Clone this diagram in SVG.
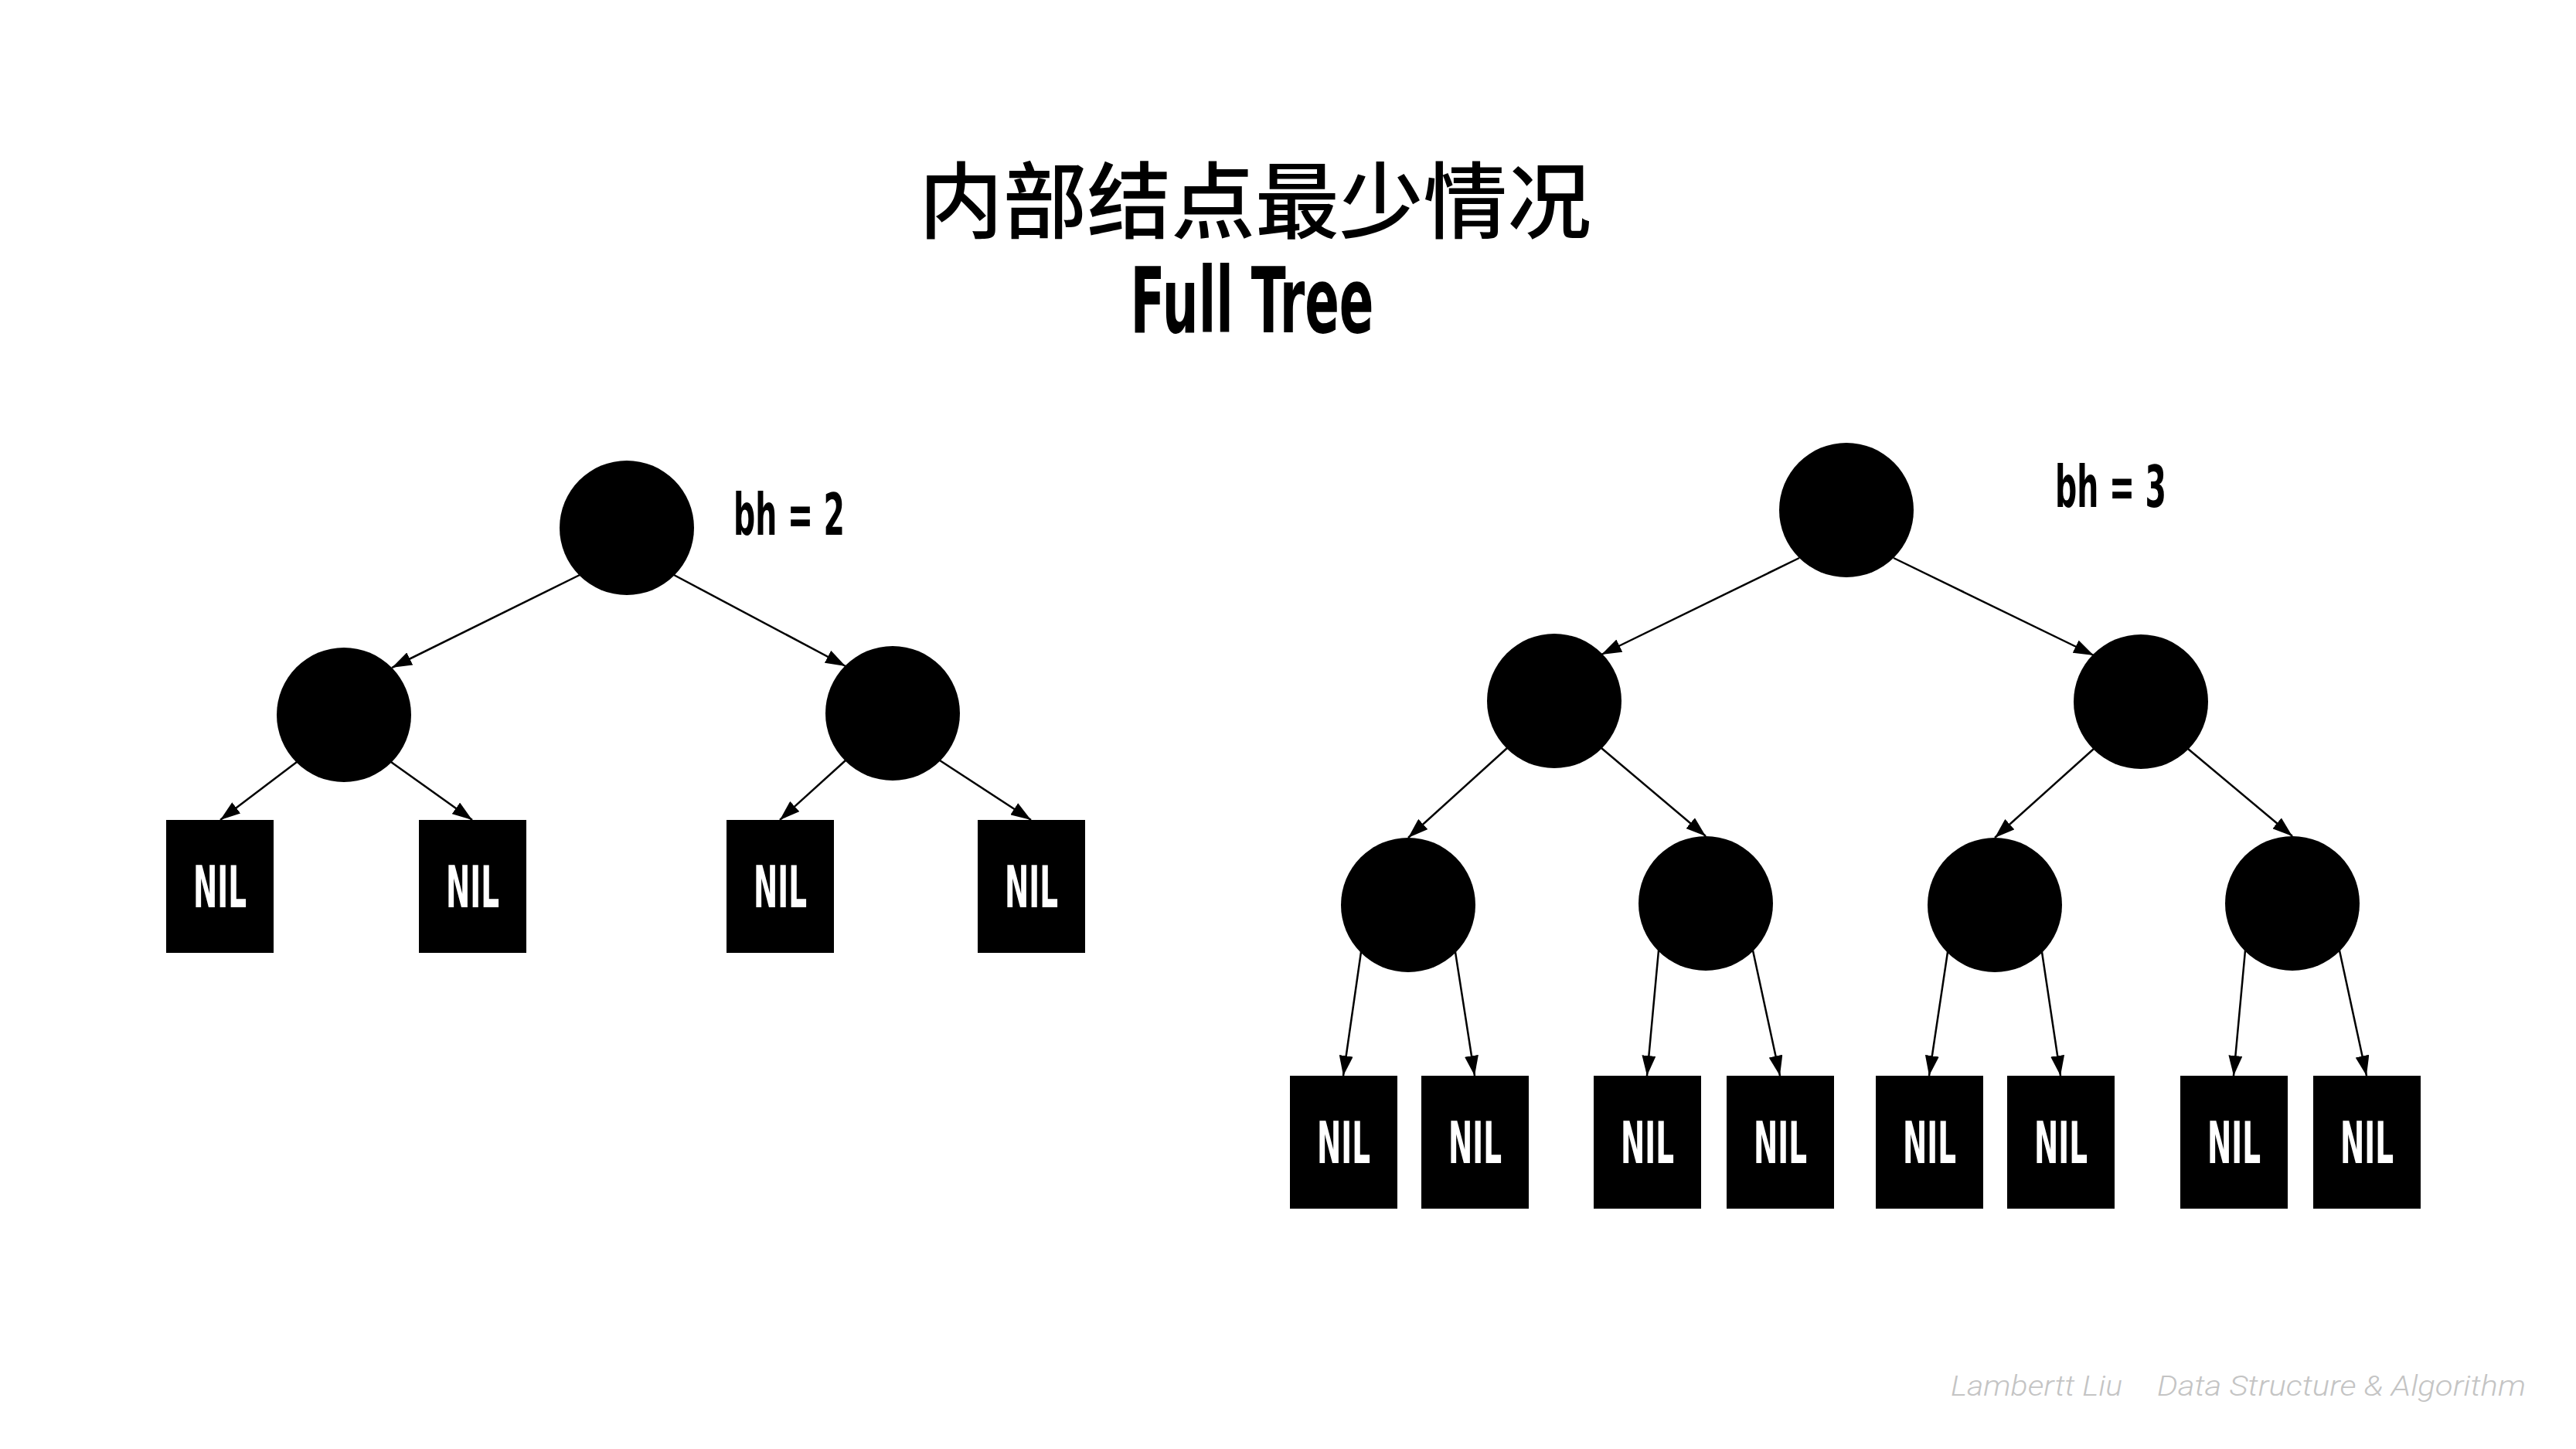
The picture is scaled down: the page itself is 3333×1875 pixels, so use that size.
<svg xmlns="http://www.w3.org/2000/svg" width="3333" height="1875" viewBox="0 0 3333 1875">
<style>
.bg{fill:#ffffff}
.node{fill:#000000}
.nil{fill:#000000}
.nilt{fill:#ffffff;font-family:'Liberation Sans Narrow','DejaVu Sans Condensed','Liberation Sans',sans-serif;font-weight:bold;font-size:74px;text-anchor:middle}
.edge{stroke:#000000;stroke-width:2.5;fill:none;marker-end:url(#arr)}
.bh{fill:#000000;font-family:'Liberation Sans Narrow','DejaVu Sans Condensed','Liberation Sans',sans-serif;font-weight:bold;font-size:74px}
.title{fill:#000000;font-family:'Noto Sans CJK SC','Noto Sans CJK JP',sans-serif;font-weight:500;font-size:108px;text-anchor:middle}
.sub{fill:#000000;font-family:'Liberation Sans Narrow','DejaVu Sans Condensed','Liberation Sans',sans-serif;font-weight:bold;font-size:118px;text-anchor:middle}
.foot{fill:#c4c4c4;font-family:Roboto,'Liberation Sans',sans-serif;font-weight:300;font-style:italic;font-size:36px}
</style>
<defs>
<marker id="arr" markerWidth="26" markerHeight="18" refX="26" refY="9" orient="auto" markerUnits="userSpaceOnUse">
<path d="M0,0 L26,9 L0,18 z" fill="#000000"/>
</marker>
</defs>
<rect class="bg" x="0" y="0" width="3333" height="1875"/>

<g id="title">
<text class="title" x="1624" y="300" textLength="870" lengthAdjust="spacingAndGlyphs">内部结点最少情况</text>
<text class="sub" x="1620" y="430" textLength="315" lengthAdjust="spacingAndGlyphs">Full Tree</text>
</g>

<g id="connectors">
<!-- left tree -->
<line class="edge" x1="750" y1="744" x2="507" y2="864"/>
<line class="edge" x1="872" y1="744" x2="1094" y2="862"/>
<line class="edge" x1="384" y1="986" x2="285" y2="1061"/>
<line class="edge" x1="506" y1="986" x2="611" y2="1061"/>
<line class="edge" x1="1094" y1="984" x2="1009" y2="1061"/>
<line class="edge" x1="1216" y1="984" x2="1334" y2="1061"/>
<!-- right tree -->
<line class="edge" x1="2328" y1="722" x2="2072" y2="847"/>
<line class="edge" x1="2450" y1="722" x2="2709" y2="848"/>
<line class="edge" x1="1950" y1="968" x2="1822" y2="1084"/>
<line class="edge" x1="2072" y1="968" x2="2207" y2="1082"/>
<line class="edge" x1="2709" y1="969" x2="2581" y2="1084"/>
<line class="edge" x1="2831" y1="969" x2="2966" y2="1082"/>
<line class="edge" x1="1761" y1="1232" x2="1738" y2="1392"/>
<line class="edge" x1="1883" y1="1232" x2="1908" y2="1392"/>
<line class="edge" x1="2146" y1="1230" x2="2131" y2="1392"/>
<line class="edge" x1="2268" y1="1230" x2="2303" y2="1392"/>
<line class="edge" x1="2520" y1="1232" x2="2496" y2="1392"/>
<line class="edge" x1="2642" y1="1232" x2="2666" y2="1392"/>
<line class="edge" x1="2905" y1="1230" x2="2890" y2="1392"/>
<line class="edge" x1="3027" y1="1230" x2="3062" y2="1392"/>
</g>

<!-- left tree nodes -->
<g id="l-root"><circle class="node" cx="811" cy="683" r="87"/></g>
<g id="l-a"><circle class="node" cx="445" cy="925" r="87"/></g>
<g id="l-b"><circle class="node" cx="1155" cy="923" r="87"/></g>
<g id="l-nil1"><rect class="nil" x="215" y="1061" width="139" height="172"/><text class="nilt" x="284.5" y="1174" textLength="69" lengthAdjust="spacingAndGlyphs">NIL</text></g>
<g id="l-nil2"><rect class="nil" x="542" y="1061" width="139" height="172"/><text class="nilt" x="611.5" y="1174" textLength="69" lengthAdjust="spacingAndGlyphs">NIL</text></g>
<g id="l-nil3"><rect class="nil" x="940" y="1061" width="139" height="172"/><text class="nilt" x="1009.5" y="1174" textLength="69" lengthAdjust="spacingAndGlyphs">NIL</text></g>
<g id="l-nil4"><rect class="nil" x="1265" y="1061" width="139" height="172"/><text class="nilt" x="1334.5" y="1174" textLength="69" lengthAdjust="spacingAndGlyphs">NIL</text></g>
<g id="l-bh"><text class="bh" x="949" y="692" textLength="144" lengthAdjust="spacingAndGlyphs">bh = 2</text></g>

<!-- right tree nodes -->
<g id="r-root"><circle class="node" cx="2389" cy="660" r="87"/></g>
<g id="r-a"><circle class="node" cx="2011" cy="907" r="87"/></g>
<g id="r-b"><circle class="node" cx="2770" cy="908" r="87"/></g>
<g id="r-aa"><circle class="node" cx="1822" cy="1171" r="87"/></g>
<g id="r-ab"><circle class="node" cx="2207" cy="1169" r="87"/></g>
<g id="r-ba"><circle class="node" cx="2581" cy="1171" r="87"/></g>
<g id="r-bb"><circle class="node" cx="2966" cy="1169" r="87"/></g>
<g id="r-nil1"><rect class="nil" x="1669" y="1392" width="139" height="172"/><text class="nilt" x="1738.5" y="1505" textLength="69" lengthAdjust="spacingAndGlyphs">NIL</text></g>
<g id="r-nil2"><rect class="nil" x="1839" y="1392" width="139" height="172"/><text class="nilt" x="1908.5" y="1505" textLength="69" lengthAdjust="spacingAndGlyphs">NIL</text></g>
<g id="r-nil3"><rect class="nil" x="2062" y="1392" width="139" height="172"/><text class="nilt" x="2131.5" y="1505" textLength="69" lengthAdjust="spacingAndGlyphs">NIL</text></g>
<g id="r-nil4"><rect class="nil" x="2234" y="1392" width="139" height="172"/><text class="nilt" x="2303.5" y="1505" textLength="69" lengthAdjust="spacingAndGlyphs">NIL</text></g>
<g id="r-nil5"><rect class="nil" x="2427" y="1392" width="139" height="172"/><text class="nilt" x="2496.5" y="1505" textLength="69" lengthAdjust="spacingAndGlyphs">NIL</text></g>
<g id="r-nil6"><rect class="nil" x="2597" y="1392" width="139" height="172"/><text class="nilt" x="2666.5" y="1505" textLength="69" lengthAdjust="spacingAndGlyphs">NIL</text></g>
<g id="r-nil7"><rect class="nil" x="2821" y="1392" width="139" height="172"/><text class="nilt" x="2890.5" y="1505" textLength="69" lengthAdjust="spacingAndGlyphs">NIL</text></g>
<g id="r-nil8"><rect class="nil" x="2993" y="1392" width="139" height="172"/><text class="nilt" x="3062.5" y="1505" textLength="69" lengthAdjust="spacingAndGlyphs">NIL</text></g>
<g id="r-bh"><text class="bh" x="2659" y="656" textLength="144" lengthAdjust="spacingAndGlyphs">bh = 3</text></g>

<g id="footer">
<text class="foot" x="2524" y="1806" textLength="222" lengthAdjust="spacingAndGlyphs">Lambertt Liu</text>
<text class="foot" x="2791" y="1806" textLength="477" lengthAdjust="spacingAndGlyphs">Data Structure &amp; Algorithm</text>
</g>
</svg>
